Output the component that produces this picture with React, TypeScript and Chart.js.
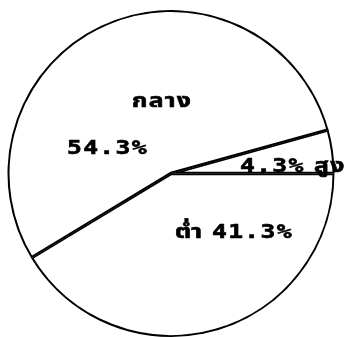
import React, { useEffect, useRef } from "react";
import { Chart, registerables } from "chart.js";

Chart.register(...registerables);

const categories = ["สูง", "ต่ำ", "กลาง"];
const values = [4.3, 41.3, 54.3];
const valueLabels = ["4.3%", "41.3%", "54.3%"];

const FONT = 'bold 19px "DejaVu Sans Mono", "Noto Sans Thai", "Noto Sans", monospace';

const labelPlugin = {
  id: "pieLabels",
  afterDraw(chart: any) {
    const meta = chart.getDatasetMeta(0);
    const arc = meta.data[0];
    if (!arc) return;
    const cx = arc.x;
    const cy = arc.y;
    const ctx = chart.ctx;
    const put = (text: string, x: number, y: number) => {
      ctx.save();
      ctx.translate(x, y);
      ctx.scale(1.3, 1);
      ctx.fillText(text, 0, 0);
      ctx.strokeText(text, 0, 0);
      ctx.restore();
    };
    ctx.save();
    ctx.fillStyle = "#000";
    ctx.strokeStyle = "#000";
    ctx.lineWidth = 0.6;
    ctx.font = FONT;
    (ctx as any).letterSpacing = "1px";
    ctx.textAlign = "left";
    ctx.textBaseline = "alphabetic";
    // กลาง
    put(categories[2], cx - 39, cy - 67);
    put(valueLabels[2], cx - 104, cy - 20);
    // สูง
    put(valueLabels[0], cx + 69, cy - 2);
    put(categories[0], cx + 143, cy - 2);
    // ต่ำ
    put(categories[1], cx + 4, cy + 64);
    put(valueLabels[1], cx + 41, cy + 64);
    ctx.restore();
  },
};

export default function App() {
  const ref = useRef<HTMLCanvasElement | null>(null);
  useEffect(() => {
    if (!ref.current) return;
    const chart = new Chart(ref.current, {
      type: "pie",
      data: {
        labels: categories,
        datasets: [
          {
            data: values,
            backgroundColor: "#ffffff",
            borderColor: "#000000",
            borderWidth: 1.7,
            borderAlign: "inner",
          },
        ],
      },
      options: {
        animation: false,
        responsive: false,
        rotation: 90 - values[0] * 3.6,
        layout: { padding: { left: 7, top: 10, right: 23, bottom: 0 } },
        plugins: {
          legend: { display: false },
          tooltip: { enabled: false },
        },
      },
      plugins: [labelPlugin],
    });
    return () => chart.destroy();
  }, []);
  return (
    <div style={{ position: "fixed", left: 0, top: 0, width: 358, height: 337, background: "#fff", overflow: "hidden" }}>
      <canvas ref={ref} width={358} height={337} style={{ position: "absolute", left: 0, top: 0 }} />
    </div>
  );
}
